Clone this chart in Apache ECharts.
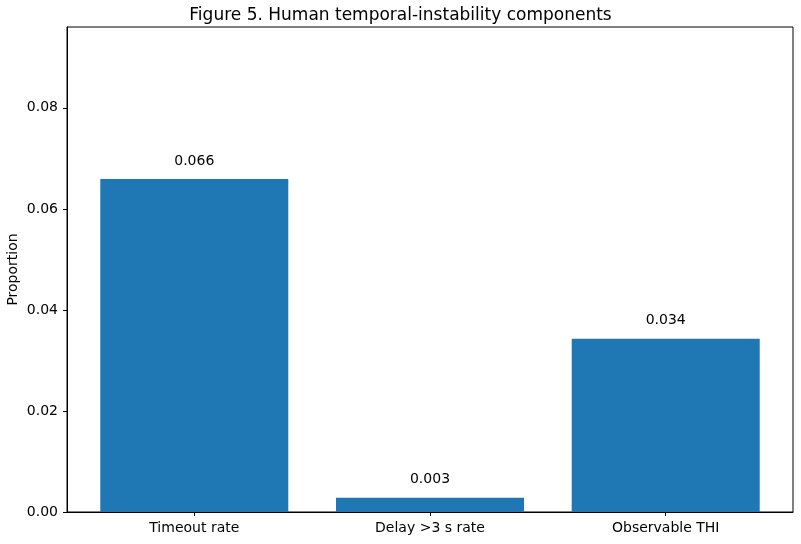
<!DOCTYPE html>
<html>
<head>
<meta charset="utf-8">
<script src="https://cdn.jsdelivr.net/npm/echarts@6/dist/echarts.min.js"></script>
<style>
  html, body { margin: 0; padding: 0; background: #fff; }
  #main { width: 801px; height: 544px; }
</style>
</head>
<body>
<div id="main"></div>
<script>
// categories and values
var categories = ['Timeout rate', 'Delay >3 s rate', 'Observable THI'];
var values = [0.0659, 0.0028, 0.0343];
var yTicks = [0, 0.02, 0.04, 0.06, 0.08];

var font = 'DejaVu Sans';
var chart = echarts.init(document.getElementById('main'));

var points = [];
for (var i = 0; i < values.length; i++) {
  points.push([i, values[i]]);
}

var option = {
  animation: false,
  backgroundColor: '#fff',
  title: {
    text: 'Figure 5. Human temporal-instability components',
    left: 'center',
    top: 2,
    textStyle: { fontFamily: font, fontSize: 17, fontWeight: 'normal', color: '#000' }
  },
  grid: {
    left: 67, right: 8, top: 27, bottom: 32,
    outerBoundsMode: 'none',
    containLabel: false,
    show: true, borderColor: '#000', borderWidth: 1
  },
  xAxis: {
    type: 'value',
    min: -0.54,
    max: 2.54,
    splitLine: { show: false },
    axisLine: { show: true, onZero: false, lineStyle: { color: '#000' } },
    axisTick: { show: true, inside: false, length: 4, customValues: [0, 1, 2], lineStyle: { color: '#000' } },
    axisLabel: {
      customValues: [0, 1, 2],
      margin: 9,
      fontFamily: font, fontSize: 14, color: '#000',
      formatter: function (v) { return categories[Math.round(v)]; }
    }
  },
  yAxis: {
    type: 'value',
    min: 0,
    max: 0.0960,
    name: 'Proportion',
    nameLocation: 'middle',
    nameGap: 47,
    nameMoveOverlap: false,
    nameTextStyle: { fontFamily: font, fontSize: 14, color: '#000' },
    splitLine: { show: false },
    axisLine: { show: true, onZero: false, lineStyle: { color: '#000' } },
    axisTick: { show: true, inside: false, length: 4, customValues: yTicks, lineStyle: { color: '#000' } },
    axisLabel: {
      customValues: yTicks,
      margin: 9,
      fontFamily: font, fontSize: 14, color: '#000',
      formatter: function (v) { return v.toFixed(2); }
    }
  },
  series: [{
    type: 'bar',
    data: points,
    barWidth: 188,
    itemStyle: { color: '#1f77b4' },
    label: {
      show: true,
      position: 'top',
      distance: 11,
      fontFamily: font, fontSize: 14, color: '#000',
      formatter: function (p) { return p.value[1].toFixed(3); }
    }
  }]
};

chart.setOption(option);
</script>
</body>
</html>
